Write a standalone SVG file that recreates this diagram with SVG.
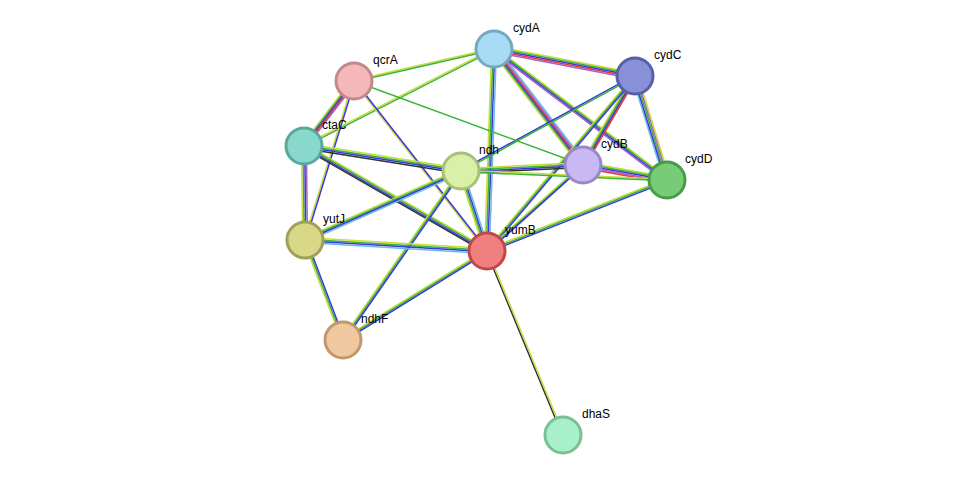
<svg xmlns="http://www.w3.org/2000/svg" xmlns:xlink="http://www.w3.org/1999/xlink" width="975" height="481" viewBox="0 0 975 481">
<style>
.e{stroke-width:1.5;fill:none}
.y{stroke:#c8dc3c}.g{stroke:#3cb43c}.b{stroke:#3838e0}.r{stroke:#e03838}.p{stroke:#a860c8}.l{stroke:#70b8e8}.k{stroke:#333}
.n{stroke-width:3}
text{font-family:"Liberation Sans",Arial,sans-serif;font-size:12px;fill:#000}
</style>
<defs>
<line id="AC" x1="494" y1="49" x2="635" y2="76"/>
<line id="AB" x1="494" y1="49" x2="583" y2="165"/>
<line id="AD" x1="494" y1="49" x2="667" y2="180"/>
<line id="AQ" x1="494" y1="49" x2="354" y2="81"/>
<line id="AT" x1="494" y1="49" x2="304" y2="146"/>
<line id="AY" x1="494" y1="49" x2="487" y2="251"/>
<line id="CB" x1="635" y1="76" x2="583" y2="165"/>
<line id="CD" x1="635" y1="76" x2="667" y2="180"/>
<line id="CY" x1="635" y1="76" x2="487" y2="251"/>
<line id="CN" x1="635" y1="76" x2="461" y2="171"/>
<line id="BD" x1="583" y1="165" x2="667" y2="180"/>
<line id="BN" x1="583" y1="165" x2="461" y2="171"/>
<line id="BY" x1="583" y1="165" x2="487" y2="251"/>
<line id="BQ" x1="583" y1="165" x2="354" y2="81"/>
<line id="DY" x1="667" y1="180" x2="487" y2="251"/>
<line id="DN" x1="667" y1="180" x2="461" y2="171"/>
<line id="QT" x1="354" y1="81" x2="304" y2="146"/>
<line id="QJ" x1="354" y1="81" x2="305" y2="240"/>
<line id="QY" x1="354" y1="81" x2="487" y2="251"/>
<line id="TJ" x1="304" y1="146" x2="305" y2="240"/>
<line id="TN" x1="304" y1="146" x2="461" y2="171"/>
<line id="TY" x1="304" y1="146" x2="487" y2="251"/>
<line id="NJ" x1="461" y1="171" x2="305" y2="240"/>
<line id="NY" x1="461" y1="171" x2="487" y2="251"/>
<line id="NF" x1="461" y1="171" x2="343" y2="340"/>
<line id="JY" x1="305" y1="240" x2="487" y2="251"/>
<line id="JF" x1="305" y1="240" x2="343" y2="340"/>
<line id="YF" x1="487" y1="251" x2="343" y2="340"/>
<line id="YS" x1="487" y1="251" x2="563" y2="435"/>
</defs>
<g id="edges" class="e">
<use href="#AC" class="y" transform="translate(0,-3)"/><use href="#AC" class="g" transform="translate(0,-1.5)"/><use href="#AC" class="b"/><use href="#AC" class="r" transform="translate(0,1.5)"/><use href="#AC" class="p" transform="translate(0,3)"/>
<use href="#AB" class="y" transform="translate(-4,0)"/><use href="#AB" class="g" transform="translate(-2.4,0)"/><use href="#AB" class="b" transform="translate(-0.8,0)"/><use href="#AB" class="r" transform="translate(0.8,0)"/><use href="#AB" class="p" transform="translate(2.4,0)"/><use href="#AB" class="l" transform="translate(4,0)"/>
<use href="#AD" class="y" transform="translate(0,-2.4)"/><use href="#AD" class="g" transform="translate(0,-0.8)"/><use href="#AD" class="b" transform="translate(0,0.8)"/><use href="#AD" class="p" transform="translate(0,2.4)"/>
<use href="#AQ" class="y" transform="translate(0,-0.8)"/><use href="#AQ" class="g" transform="translate(0,0.8)"/>
<use href="#AT" class="y" transform="translate(0,-0.8)"/><use href="#AT" class="g" transform="translate(0,0.8)"/>
<use href="#AY" class="y" transform="translate(-2.4,0)"/><use href="#AY" class="g" transform="translate(-0.8,0)"/><use href="#AY" class="b" transform="translate(0.8,0)"/><use href="#AY" class="l" transform="translate(2.4,0)"/>
<use href="#CB" class="y" transform="translate(-2.4,0)"/><use href="#CB" class="g" transform="translate(-0.8,0)"/><use href="#CB" class="b" transform="translate(0.8,0)"/><use href="#CB" class="r" transform="translate(2.4,0)"/>
<use href="#CD" class="l" transform="translate(-3,0)"/><use href="#CD" class="b" transform="translate(-1.5,0)"/><use href="#CD" class="g"/><use href="#CD" class="p" transform="translate(1.5,0)"/><use href="#CD" class="y" transform="translate(3,0)"/>
<use href="#CY" class="y" transform="translate(-1.6,0)"/><use href="#CY" class="g"/><use href="#CY" class="b" transform="translate(1.6,0)"/>
<use href="#CN" class="b" transform="translate(0,-0.8)"/><use href="#CN" class="g" transform="translate(0,0.8)"/>
<use href="#BD" class="y" transform="translate(0,-3)"/><use href="#BD" class="g" transform="translate(0,-1.5)"/><use href="#BD" class="b"/><use href="#BD" class="p" transform="translate(0,1.5)"/><use href="#BD" class="r" transform="translate(0,3)"/>
<use href="#BN" class="y" transform="translate(0,-2.4)"/><use href="#BN" class="g" transform="translate(0,-0.8)"/><use href="#BN" class="b" transform="translate(0,0.8)"/><use href="#BN" class="k" transform="translate(0,2.4)"/>
<use href="#BY" class="y" transform="translate(-1.6,0)"/><use href="#BY" class="g"/><use href="#BY" class="b" transform="translate(1.6,0)"/>
<use href="#BQ" class="g"/>
<use href="#DY" class="y" transform="translate(0,-1.6)"/><use href="#DY" class="g"/><use href="#DY" class="b" transform="translate(0,1.6)"/>
<use href="#DN" class="y" transform="translate(0,-0.8)"/><use href="#DN" class="g" transform="translate(0,0.8)"/>
<use href="#QT" class="y" transform="translate(-3,0)"/><use href="#QT" class="g" transform="translate(-1.5,0)"/><use href="#QT" class="b"/><use href="#QT" class="r" transform="translate(1.5,0)"/><use href="#QT" class="p" transform="translate(3,0)"/>
<use href="#QJ" class="y" transform="translate(-0.8,0)"/><use href="#QJ" class="b" transform="translate(0.8,0)"/>
<use href="#QY" class="y" transform="translate(-0.8,0)"/><use href="#QY" class="b" transform="translate(0.8,0)"/>
<use href="#TJ" class="y" transform="translate(-2.4,0)"/><use href="#TJ" class="g" transform="translate(-0.8,0)"/><use href="#TJ" class="b" transform="translate(0.8,0)"/><use href="#TJ" class="p" transform="translate(2.4,0)"/>
<use href="#TN" class="y" transform="translate(0,-2.4)"/><use href="#TN" class="g" transform="translate(0,-0.8)"/><use href="#TN" class="b" transform="translate(0,0.8)"/><use href="#TN" class="k" transform="translate(0,2.4)"/>
<use href="#TY" class="y" transform="translate(0,-2.4)"/><use href="#TY" class="g" transform="translate(0,-0.8)"/><use href="#TY" class="b" transform="translate(0,0.8)"/><use href="#TY" class="k" transform="translate(0,2.4)"/>
<use href="#NJ" class="y" transform="translate(0,-2.4)"/><use href="#NJ" class="g" transform="translate(0,-0.8)"/><use href="#NJ" class="b" transform="translate(0,0.8)"/><use href="#NJ" class="l" transform="translate(0,2.4)"/>
<use href="#NY" class="y" transform="translate(-2.4,0)"/><use href="#NY" class="g" transform="translate(-0.8,0)"/><use href="#NY" class="b" transform="translate(0.8,0)"/><use href="#NY" class="l" transform="translate(2.4,0)"/>
<use href="#NF" class="y" transform="translate(-1.6,0)"/><use href="#NF" class="g"/><use href="#NF" class="b" transform="translate(1.6,0)"/>
<use href="#JY" class="y" transform="translate(0,-2.4)"/><use href="#JY" class="g" transform="translate(0,-0.8)"/><use href="#JY" class="b" transform="translate(0,0.8)"/><use href="#JY" class="l" transform="translate(0,2.4)"/>
<use href="#JF" class="y" transform="translate(-1.6,0)"/><use href="#JF" class="g"/><use href="#JF" class="b" transform="translate(1.6,0)"/>
<use href="#YF" class="y" transform="translate(0,-1.6)"/><use href="#YF" class="g"/><use href="#YF" class="b" transform="translate(0,1.6)"/>
<use href="#YS" class="k" transform="translate(-0.8,0)"/><use href="#YS" class="y" transform="translate(0.8,0)"/>
</g>
<g id="cydA"><circle class="n" cx="494" cy="49" r="18" fill="#a8dcf4" stroke="#78a8c0"/><text x="513" y="32">cydA</text></g>
<g id="cydC"><circle class="n" cx="635" cy="76" r="18" fill="#8890d8" stroke="#5860a8"/><text x="654" y="59">cydC</text></g>
<g id="qcrA"><circle class="n" cx="354" cy="81" r="18" fill="#f4b8b8" stroke="#c48888"/><text x="373" y="64">qcrA</text></g>
<g id="ctaC"><circle class="n" cx="304" cy="146" r="18" fill="#88d8cc" stroke="#58a89c"/><text x="322" y="129">ctaC</text></g>
<g id="ndh"><circle class="n" cx="461" cy="171" r="18" fill="#d8f0a8" stroke="#a8c078"/><text x="479" y="154">ndh</text></g>
<g id="cydB"><circle class="n" cx="583" cy="165" r="18" fill="#c8b8f4" stroke="#9888c4"/><text x="601" y="148">cydB</text></g>
<g id="cydD"><circle class="n" cx="667" cy="180" r="18" fill="#78cc78" stroke="#489c48"/><text x="685" y="163">cydD</text></g>
<g id="yutJ"><circle class="n" cx="305" cy="240" r="18" fill="#d8d888" stroke="#a0a058"/><text x="323" y="223">yutJ</text></g>
<g id="yumB"><circle class="n" cx="487" cy="251" r="18" fill="#f08080" stroke="#c04848"/><text x="505" y="234">yumB</text></g>
<g id="ndhF"><circle class="n" cx="343" cy="340" r="18" fill="#f0c8a0" stroke="#c09870"/><text x="361" y="323">ndhF</text></g>
<g id="dhaS"><circle class="n" cx="563" cy="435" r="18" fill="#a8f0c8" stroke="#78c098"/><text x="582" y="418">dhaS</text></g>
</svg>
